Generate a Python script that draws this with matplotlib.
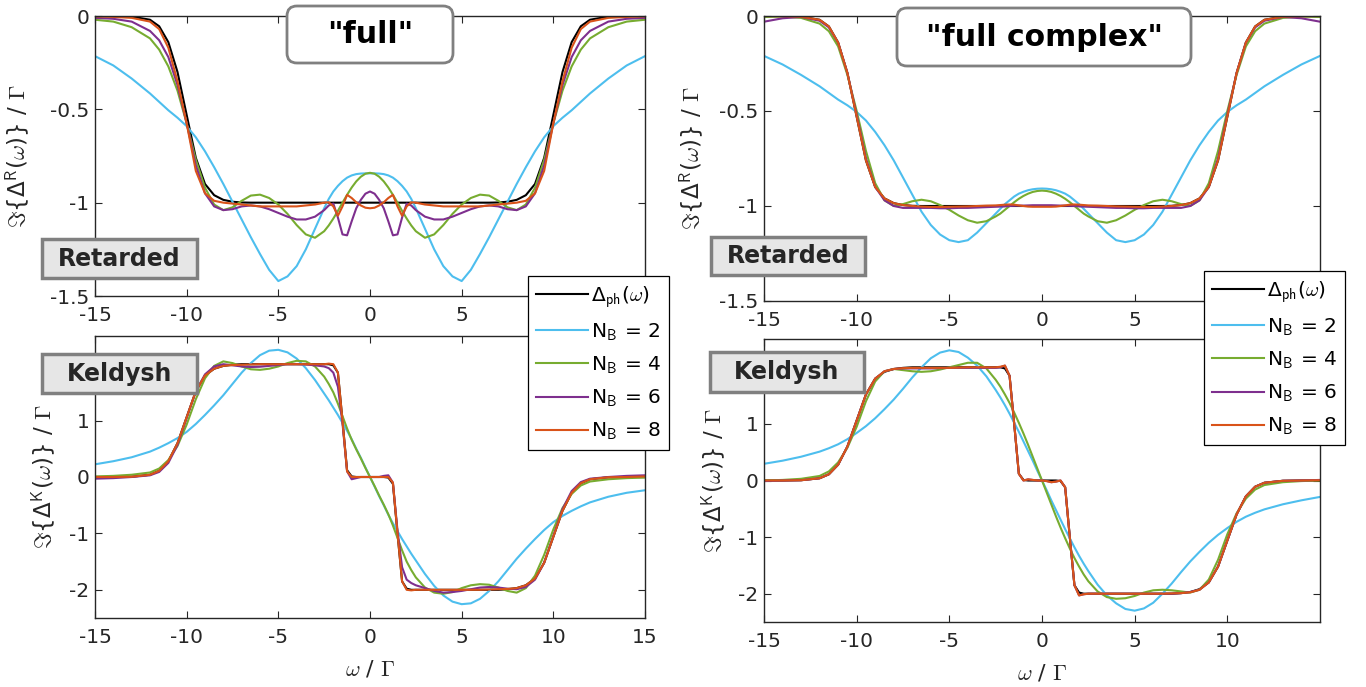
import matplotlib.pyplot as plt
from matplotlib.patches import FancyBboxPatch

plt.rcParams['font.family'] = 'DejaVu Sans'
plt.rcParams['mathtext.fontset'] = 'cm'

# frequency grid, omega / Gamma
w = [-15, -14, -13, -12, -11.5, -11, -10.5, -10, -9.5, -9, -8.5, -8, -7.5, -7,
     -6.5, -6, -5.5, -5, -4.5, -4, -3.5, -3, -2.5, -2.25, -2, -1.75, -1.5,
     -1.25, -1, -0.75, -0.5, -0.25, 0,
     0.25, 0.5, 0.75, 1, 1.25, 1.5, 1.75, 2, 2.25, 2.5, 3, 3.5, 4, 4.5, 5,
     5.5, 6, 6.5, 7, 7.5, 8, 8.5, 9, 9.5, 10, 10.5, 11, 11.5, 12, 13, 14, 15]

# physical hybridisation (same reference in both columns)
ph_R = [0, 0, -0.003, -0.02, -0.055, -0.14, -0.30, -0.53, -0.76, -0.90, -0.96, -0.985, -0.995, -0.999,
        -1, -1, -1, -1, -1, -1, -1, -1, -1, -1, -1, -1, -1, -1, -1, -1, -1, -1,
        -1,
        -1, -1, -1, -1, -1, -1, -1, -1, -1, -1, -1, -1, -1, -1, -1, -1, -1, -1,
        -0.999, -0.995, -0.985, -0.96, -0.90, -0.76, -0.53, -0.30, -0.14, -0.055, -0.02, -0.003, 0, 0]
ph_K = [0, 0, 0.005, 0.04, 0.11, 0.28, 0.6, 1.06, 1.52, 1.8, 1.92, 1.97, 1.99, 2.0,
        2.0, 2.0, 2.0, 2.0, 2.0, 2.0, 2.0, 2.0, 2.0, 2.0, 1.98, 1.85, 1.0, 0.12, 0.01, 0, 0, 0,
        0,
        0, 0, 0, -0.01, -0.12, -1.0, -1.85, -1.98, -2.0, -2.0, -2.0, -2.0, -2.0, -2.0, -2.0, -2.0, -2.0, -2.0,
        -2.0, -1.99, -1.97, -1.92, -1.8, -1.52, -1.06, -0.6, -0.28, -0.11, -0.04, -0.005, 0, 0]

# "full" fit, retarded component
full_R2 = [-0.215, -0.265, -0.335, -0.415, -0.46, -0.505, -0.545, -0.59, -0.65, -0.725, -0.81, -0.9, -0.995,
           -1.09, -1.185, -1.275, -1.36, -1.42, -1.395, -1.34, -1.25, -1.14, -1.03, -0.98, -0.94, -0.91,
           -0.885, -0.866, -0.854, -0.847, -0.844, -0.843,
           -0.843,
           -0.843, -0.844, -0.847, -0.854, -0.866, -0.885, -0.91, -0.94, -0.98, -1.03, -1.14, -1.25, -1.34,
           -1.395, -1.42, -1.36, -1.275, -1.185, -1.09, -0.995, -0.9, -0.81, -0.725, -0.65, -0.59, -0.545,
           -0.505, -0.46, -0.415, -0.335, -0.265, -0.215]
full_R4 = [-0.02, -0.03, -0.06, -0.12, -0.18, -0.27, -0.40, -0.575, -0.77, -0.92, -1.01, -1.04, -1.025,
           -0.99, -0.962, -0.957, -0.975, -1.01, -1.06, -1.12, -1.17, -1.188, -1.153, -1.122, -1.085,
           -1.044, -1.0, -0.958, -0.919, -0.886, -0.861, -0.845,
           -0.84,
           -0.845, -0.861, -0.886, -0.919, -0.958, -1.0, -1.044, -1.085, -1.122, -1.153, -1.188, -1.17,
           -1.12, -1.06, -1.01, -0.975, -0.957, -0.962, -0.99, -1.025, -1.04, -1.01, -0.92, -0.77, -0.575,
           -0.40, -0.27, -0.18, -0.12, -0.06, -0.03, -0.02]
full_R6 = [-0.01, -0.015, -0.03, -0.08, -0.13, -0.22, -0.37, -0.575, -0.80, -0.95, -1.02, -1.04, -1.035,
           -1.02, -1.015, -1.02, -1.035, -1.055, -1.075, -1.09, -1.09, -1.075, -1.04, -1.015, -1.005,
           -1.08, -1.17, -1.175, -1.10, -1.03, -0.985, -0.952,
           -0.94,
           -0.952, -0.985, -1.03, -1.10, -1.175, -1.17, -1.08, -1.005, -1.015, -1.04, -1.075, -1.09,
           -1.09, -1.075, -1.055, -1.035, -1.02, -1.015, -1.02, -1.035, -1.04, -1.02, -0.95, -0.80, -0.575,
           -0.37, -0.22, -0.13, -0.08, -0.03, -0.015, -0.01]
full_R8 = [-0.002, -0.005, -0.01, -0.03, -0.07, -0.17, -0.35, -0.575, -0.83, -0.95, -0.99, -1.0, -1.005,
           -1.01, -1.015, -1.02, -1.02, -1.02, -1.02, -1.02, -1.015, -1.01, -1.0, -0.998, -1.02, -1.07,
           -1.02, -0.958, -0.975, -0.998, -1.015, -1.027,
           -1.03,
           -1.027, -1.015, -0.998, -0.975, -0.958, -1.02, -1.07, -1.02, -0.998, -1.0, -1.01, -1.015,
           -1.02, -1.02, -1.02, -1.02, -1.02, -1.015, -1.01, -1.005, -1.0, -0.99, -0.95, -0.83, -0.575,
           -0.35, -0.17, -0.07, -0.03, -0.01, -0.005, -0.002]

# "full complex" fit, retarded component
cplx_R2 = [-0.21, -0.255, -0.31, -0.37, -0.405, -0.44, -0.47, -0.505, -0.55, -0.61, -0.68, -0.76, -0.85,
           -0.94, -1.03, -1.10, -1.15, -1.18, -1.19, -1.18, -1.14, -1.09, -1.04, -1.015, -0.99, -0.97,
           -0.95, -0.935, -0.925, -0.917, -0.912, -0.909,
           -0.908,
           -0.909, -0.912, -0.917, -0.925, -0.935, -0.95, -0.97, -0.99, -1.015, -1.04, -1.09, -1.14,
           -1.18, -1.19, -1.18, -1.15, -1.10, -1.03, -0.94, -0.85, -0.76, -0.68, -0.61, -0.55, -0.505,
           -0.47, -0.44, -0.405, -0.37, -0.31, -0.255, -0.21]
cplx_R4 = [-0.005, -0.003, -0.01, -0.04, -0.08, -0.16, -0.31, -0.5, -0.71, -0.88, -0.97, -1.0, -0.99,
           -0.975, -0.967, -0.975, -0.995, -1.02, -1.05, -1.075, -1.088, -1.08, -1.055, -1.04, -1.02,
           -1.0, -0.98, -0.962, -0.947, -0.935, -0.926, -0.921,
           -0.919,
           -0.921, -0.926, -0.935, -0.947, -0.962, -0.98, -1.0, -1.02, -1.04, -1.055, -1.08, -1.088,
           -1.075, -1.05, -1.02, -0.995, -0.975, -0.967, -0.975, -0.99, -1.0, -0.97, -0.88, -0.71, -0.5,
           -0.31, -0.16, -0.08, -0.04, -0.01, -0.003, -0.005]
cplx_R6 = [-0.03, -0.012, -0.005, -0.025, -0.06, -0.14, -0.30, -0.52, -0.75, -0.90, -0.97, -1.0, -1.01,
           -1.01, -1.01, -1.01, -1.012, -1.012, -1.01, -1.01, -1.008, -1.006, -1.004, -1.003, -1.002,
           -1.0, -0.999, -0.998, -0.998, -0.997, -0.996, -0.996,
           -0.996,
           -0.996, -0.996, -0.997, -0.998, -0.998, -0.999, -1.0, -1.002, -1.003, -1.004, -1.006, -1.008,
           -1.01, -1.01, -1.012, -1.012, -1.01, -1.01, -1.01, -1.01, -1.0, -0.97, -0.90, -0.75, -0.52,
           -0.30, -0.14, -0.06, -0.025, -0.005, -0.012, -0.03]
cplx_R8 = [0, -0.001, -0.004, -0.02, -0.055, -0.14, -0.30, -0.53, -0.76, -0.90, -0.96, -0.985, -0.995,
           -1.0, -1.003, -1.005, -1.005, -1.004, -1.003, -1.002, -1.0, -0.998, -0.997, -0.995, -0.993,
           -0.992, -0.993, -0.997, -1.0, -1.003, -1.004, -1.004,
           -1.004,
           -1.004, -1.004, -1.003, -1.0, -0.997, -0.993, -0.992, -0.993, -0.995, -0.997, -0.998, -1.0,
           -1.002, -1.003, -1.004, -1.005, -1.005, -1.003, -1.0, -0.995, -0.985, -0.96, -0.90, -0.76, -0.53,
           -0.30, -0.14, -0.055, -0.02, -0.004, -0.001, 0]

# "full" fit, Keldysh component
full_K2 = [0.225, 0.28, 0.35, 0.45, 0.52, 0.6, 0.69, 0.8, 0.94, 1.1, 1.27, 1.45, 1.65, 1.85, 2.02, 2.16,
           2.24, 2.255, 2.21, 2.1, 1.93, 1.72, 1.48, 1.36, 1.23, 1.1, 0.96, 0.82, 0.67, 0.5, 0.34, 0.17,
           0,
           -0.17, -0.34, -0.5, -0.67, -0.82, -0.96, -1.1, -1.23, -1.36, -1.48, -1.72, -1.93, -2.1, -2.21,
           -2.255, -2.24, -2.16, -2.02, -1.85, -1.65, -1.45, -1.27, -1.1, -0.94, -0.8, -0.69, -0.6, -0.52,
           -0.45, -0.35, -0.28, -0.235]
full_K4 = [0.01, 0.02, 0.04, 0.08, 0.15, 0.3, 0.55, 0.93, 1.38, 1.75, 1.97, 2.05, 2.02, 1.96, 1.91, 1.9,
           1.92, 1.96, 2.02, 2.06, 2.05, 1.96, 1.78, 1.65, 1.5, 1.3, 1.08, 0.86, 0.66, 0.49, 0.33, 0.16,
           0,
           -0.16, -0.33, -0.49, -0.66, -0.86, -1.08, -1.3, -1.5, -1.65, -1.78, -1.96, -2.05, -2.07, -2.04,
           -1.97, -1.92, -1.9, -1.91, -1.96, -2.02, -2.05, -1.97, -1.75, -1.38, -0.93, -0.55, -0.3, -0.15,
           -0.08, -0.04, -0.02, -0.01]
full_K6 = [-0.03, -0.02, 0.0, 0.03, 0.09, 0.25, 0.57, 1.05, 1.52, 1.82, 1.96, 2.0, 1.98, 1.96, 1.95, 1.955,
           1.97, 1.985, 2.0, 2.0, 1.995, 1.98, 1.96, 1.93, 1.85, 1.6, 0.95, 0.1, -0.04, -0.02, 0.0, 0.0,
           0,
           0.0, 0.0, 0.02, 0.03, -0.1, -0.95, -1.6, -1.82, -1.88, -1.92, -1.97, -2.02, -2.05, -2.04, -2.02,
           -1.99, -1.96, -1.95, -1.96, -1.98, -1.99, -1.95, -1.82, -1.52, -1.05, -0.57, -0.25, -0.09, -0.03,
           0.0, 0.02, 0.03]
full_K8 = [0, 0, 0.005, 0.04, 0.11, 0.28, 0.6, 1.06, 1.52, 1.8, 1.92, 1.97, 1.985, 1.99, 1.995, 2.0,
           2.0, 2.0, 2.0, 2.0, 2.0, 2.0, 2.0, 2.01, 2.0, 1.85, 1.0, 0.1, 0.0, 0.0, 0.0, 0.0,
           0,
           0.0, 0.0, 0.0, 0.0, -0.1, -1.0, -1.85, -2.0, -2.01, -2.0, -2.0, -2.0, -2.0, -2.0, -2.0, -2.0,
           -2.0, -1.995, -1.99, -1.985, -1.97, -1.92, -1.8, -1.52, -1.06, -0.6, -0.28, -0.11, -0.04, -0.005,
           0.0, 0.01]

# "full complex" fit, Keldysh component
cplx_K2 = [0.295, 0.35, 0.42, 0.51, 0.57, 0.64, 0.73, 0.84, 0.96, 1.1, 1.26, 1.43, 1.62, 1.82, 2.0, 2.16,
           2.26, 2.3, 2.27, 2.17, 2.03, 1.84, 1.6, 1.47, 1.33, 1.18, 1.02, 0.86, 0.69, 0.52, 0.35, 0.17,
           0,
           -0.17, -0.35, -0.52, -0.69, -0.86, -1.02, -1.18, -1.33, -1.47, -1.6, -1.84, -2.03, -2.17, -2.27,
           -2.3, -2.26, -2.16, -2.0, -1.82, -1.62, -1.43, -1.26, -1.1, -0.96, -0.84, -0.73, -0.64, -0.57,
           -0.51, -0.42, -0.35, -0.29]
cplx_K4 = [0.0, 0.01, 0.03, 0.08, 0.16, 0.32, 0.58, 0.95, 1.4, 1.75, 1.93, 1.97, 1.95, 1.93, 1.92, 1.93,
           1.96, 2.0, 2.04, 2.08, 2.08, 1.98, 1.78, 1.66, 1.52, 1.37, 1.2, 1.02, 0.83, 0.63, 0.42, 0.21,
           0,
           -0.21, -0.42, -0.63, -0.83, -1.02, -1.2, -1.37, -1.52, -1.66, -1.78, -1.96, -2.06, -2.09, -2.08,
           -2.04, -1.98, -1.94, -1.93, -1.94, -1.96, -1.98, -1.93, -1.75, -1.4, -0.95, -0.58, -0.32, -0.16,
           -0.08, -0.03, -0.01, 0.0]
cplx_K6 = [-0.01, 0, 0.005, 0.04, 0.11, 0.28, 0.6, 1.06, 1.52, 1.8, 1.93, 1.97, 1.98, 1.98, 1.98, 1.98,
           1.985, 1.99, 1.99, 1.99, 1.99, 1.99, 1.99, 2.0, 2.03, 1.85, 1.0, 0.12, 0.0, 0.02, 0.01, 0.0,
           0.0,
           -0.01, -0.03, -0.02, 0.0, -0.12, -1.0, -1.85, -2.03, -2.01, -2.0, -2.0, -2.0, -2.0, -2.0, -2.0,
           -2.0, -2.0, -2.0, -2.0, -1.99, -1.97, -1.93, -1.8, -1.52, -1.06, -0.6, -0.28, -0.11, -0.04,
           -0.005, 0, 0.01]
cplx_K8 = [0, 0, 0.005, 0.04, 0.11, 0.28, 0.6, 1.06, 1.52, 1.8, 1.93, 1.97, 1.985, 1.99, 1.99, 1.99,
           1.99, 1.99, 1.995, 2.0, 2.0, 2.0, 2.0, 2.01, 2.03, 1.85, 1.0, 0.12, 0.0, 0.02, 0.01, 0.0,
           0.0,
           -0.01, -0.03, -0.02, 0.0, -0.12, -1.0, -1.85, -2.03, -2.01, -2.0, -2.0, -2.0, -2.0, -2.0, -2.0,
           -2.0, -2.0, -2.0, -1.995, -1.99, -1.975, -1.93, -1.8, -1.52, -1.06, -0.6, -0.28, -0.11, -0.04,
           -0.005, 0, 0.005]

nb_labels = ['N$_\\mathsf{B}$ = 2', 'N$_\\mathsf{B}$ = 4', 'N$_\\mathsf{B}$ = 6', 'N$_\\mathsf{B}$ = 8']
ph_label = 'Δ$_\\mathsf{ph}$($\\omega$)'
colors = ['#4DBEEE', '#77AC30', '#7E2F8E', '#D95319']
axis_col = '#262626'

W, H = 1366, 687
fig = plt.figure(figsize=(W / 100, H / 100), dpi=100)


def px_axes(x0, y0, x1, y1):
    return fig.add_axes([x0 / W, 1 - y1 / H, (x1 - x0) / W, (y1 - y0) / H])


def panel(ax, ph, curves, ylim, yticks, yhidden, xticks, xhidden, comp):
    ax.plot(w, ph, color='k', lw=1.5, label=ph_label)
    for y, c, lab in zip(curves, colors, nb_labels):
        ax.plot(w, y, color=c, lw=1.5, label=lab)
    ax.set_xlim(-15, 15)
    ax.set_ylim(*ylim)
    ax.set_xticks(xticks, labels=[str(t) for t in xticks])
    ax.set_yticks(yticks, labels=['%g' % t for t in yticks])
    # ticks whose labels would sit under the legend or a panel tag
    ax.set_xticks(xhidden, minor=True)
    ax.set_yticks(yhidden, minor=True)
    for which in ('major', 'minor'):
        ax.tick_params(which=which, direction='in', top=True, right=True, length=5, width=0.8,
                       colors=axis_col, labelsize=14.5)
    ax.tick_params(axis='x', pad=7)
    ax.tick_params(axis='y', pad=4)
    for s in ax.spines.values():
        s.set_color(axis_col)
        s.set_linewidth(1.0)
    ax.set_ylabel('$\\Im$' + '{Δ$^{\\mathsf{' + comp + '}}$($\\omega$)} / $\\Gamma$',
                  fontsize=16.5, color=axis_col)
    ax.set_facecolor('none')


ax_tl = px_axes(95, 16, 645, 296)
ax_bl = px_axes(95, 336, 645, 618)
ax_tr = px_axes(764, 16, 1320, 301)
ax_br = px_axes(764, 339, 1320, 622)

ticks_R = [-1.5, -1, -0.5, 0]
ticks_K = [-2, -1, 0, 1]

panel(ax_tl, ph_R, [full_R2, full_R4, full_R6, full_R8], (-1.5, 0), ticks_R, [],
      [-15, -10, -5, 0, 5], [10, 15], 'R')
panel(ax_bl, ph_K, [full_K2, full_K4, full_K6, full_K8], (-2.5, 2.5), ticks_K, [2],
      [-15, -10, -5, 0, 5, 10, 15], [], 'K')
panel(ax_tr, ph_R, [cplx_R2, cplx_R4, cplx_R6, cplx_R8], (-1.5, 0), ticks_R, [],
      [-15, -10, -5, 0, 5], [10], 'R')
panel(ax_br, ph_K, [cplx_K2, cplx_K4, cplx_K6, cplx_K8], (-2.5, 2.5), ticks_K, [2],
      [-15, -10, -5, 0, 5, 10], [], 'K')

ax_tl.yaxis.set_label_coords(-0.1145, 0.5)
ax_bl.yaxis.set_label_coords(-0.067, 0.5)
ax_tr.yaxis.set_label_coords(-0.104, 0.5)
ax_br.yaxis.set_label_coords(-0.065, 0.5)

for ax in (ax_bl, ax_br):
    ax.set_xlabel('$\\omega$ / $\\Gamma$', fontsize=16, color=axis_col)
    ax.xaxis.set_label_coords(0.5, -0.142)

# legends sit across the upper and lower panels
for ax, (lx, ly) in ((ax_tl, (528, 276)), (ax_tr, (1204, 271))):
    h, l = ax.get_legend_handles_labels()
    leg = fig.legend(h, l, loc='upper left', bbox_to_anchor=(lx / 100, (H - ly) / 100),
                     bbox_transform=fig.dpi_scale_trans, fancybox=False, framealpha=1,
                     edgecolor='k', fontsize=14.5, handlelength=2.6, handletextpad=0.15,
                     labelspacing=0.58, borderpad=0.4, borderaxespad=0)
    leg.get_frame().set_linewidth(0.9)


def box(x0, y0, x1, y1, text, fs, fc, lw, rounded, tc):
    style = 'round,pad=0,rounding_size=0.1' if rounded else 'square,pad=0'
    p = FancyBboxPatch((x0 / 100, (H - y1) / 100), (x1 - x0) / 100, (y1 - y0) / 100,
                       boxstyle=style, transform=fig.dpi_scale_trans,
                       facecolor=fc, edgecolor='#808080', lw=lw, zorder=3)
    fig.add_artist(p)
    fig.text((x0 + x1) / 200, (H - (y0 + y1) / 2) / 100, text, transform=fig.dpi_scale_trans,
             ha='center', va='center', fontsize=fs, fontweight='bold', color=tc, zorder=4)


box(287, 6, 453, 63, '"full"', 21.5, 'white', 2, True, 'k')
box(897, 8, 1191, 66, '"full complex"', 21.5, 'white', 2, True, 'k')
box(42, 239, 197, 278, 'Retarded', 17, '#e6e6e6', 2.5, False, '#262626')
box(711, 237, 865, 275, 'Retarded', 17, '#e6e6e6', 2.5, False, '#262626')
box(42, 354, 197, 393, 'Keldysh', 17, '#e6e6e6', 2.5, False, '#262626')
box(710, 352, 864, 392, 'Keldysh', 17, '#e6e6e6', 2.5, False, '#262626')

fig.savefig('out.png', dpi=100)
